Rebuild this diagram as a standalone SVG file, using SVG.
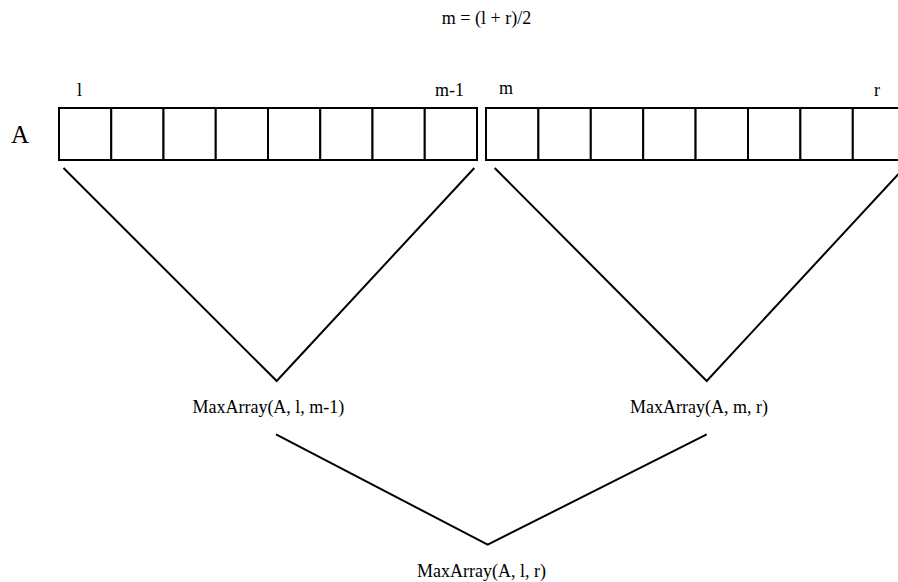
<svg xmlns="http://www.w3.org/2000/svg" width="898" height="582" viewBox="0 0 898 582">
  <style>
    .cell { fill: #ffffff; stroke: #000000; stroke-width: 2; }
    .edge { fill: none; stroke: #000000; stroke-width: 2; stroke-linejoin: miter; }
    .lbl { font-family: "Liberation Serif", "Times New Roman", serif; font-size: 18px; fill: #000000; }
    .big { font-size: 25px; }
    .mid { text-anchor: middle; }
  </style>
  <rect x="0" y="0" width="898" height="582" fill="#ffffff"/>

  <!-- split point -->
  <g id="formula">
    <text class="lbl mid" x="486.5" y="24">m = (l + r)/2</text>
  </g>

  <!-- array name and index labels -->
  <g id="array-name">
    <text class="lbl big" x="11" y="143">A</text>
  </g>
  <g id="index-labels">
    <text class="lbl" x="77" y="96">l</text>
    <text class="lbl" x="435" y="96">m-1</text>
    <text class="lbl" x="499" y="94">m</text>
    <text class="lbl" x="874" y="96">r</text>
  </g>

  <!-- left half A[l..m-1] -->
  <g id="left-half">
    <rect class="cell" x="59" y="108" width="52.25" height="52"/>
    <rect class="cell" x="111.25" y="108" width="52.25" height="52"/>
    <rect class="cell" x="163.5" y="108" width="52.25" height="52"/>
    <rect class="cell" x="215.75" y="108" width="52.25" height="52"/>
    <rect class="cell" x="268" y="108" width="52.25" height="52"/>
    <rect class="cell" x="320.25" y="108" width="52.25" height="52"/>
    <rect class="cell" x="372.5" y="108" width="52.25" height="52"/>
    <rect class="cell" x="424.75" y="108" width="52.25" height="52"/>
  </g>

  <!-- right half A[m..r] -->
  <g id="right-half">
    <rect class="cell" x="486" y="108" width="52.4" height="52"/>
    <rect class="cell" x="538.4" y="108" width="52.4" height="52"/>
    <rect class="cell" x="590.8" y="108" width="52.4" height="52"/>
    <rect class="cell" x="643.2" y="108" width="52.4" height="52"/>
    <rect class="cell" x="695.6" y="108" width="52.4" height="52"/>
    <rect class="cell" x="748" y="108" width="52.4" height="52"/>
    <rect class="cell" x="800.4" y="108" width="52.4" height="52"/>
    <rect class="cell" x="852.8" y="108" width="52.4" height="52"/>
  </g>

  <!-- recursion connectors -->
  <g id="connectors">
    <polyline class="edge" points="63.5,168 276.7,381 474.3,168"/>
    <polyline class="edge" points="494.7,168 706.7,381 904,168"/>
    <polyline class="edge" points="276,434.3 487.7,544.7 706.7,434.3"/>
  </g>

  <!-- recursive calls -->
  <g id="call-left">
    <text class="lbl mid" x="268.4" y="413">MaxArray(A, l, m-1)</text>
  </g>
  <g id="call-right">
    <text class="lbl mid" x="699" y="413">MaxArray(A, m, r)</text>
  </g>
  <g id="call-whole">
    <text class="lbl mid" x="481.5" y="577">MaxArray(A, l, r)</text>
  </g>
</svg>
